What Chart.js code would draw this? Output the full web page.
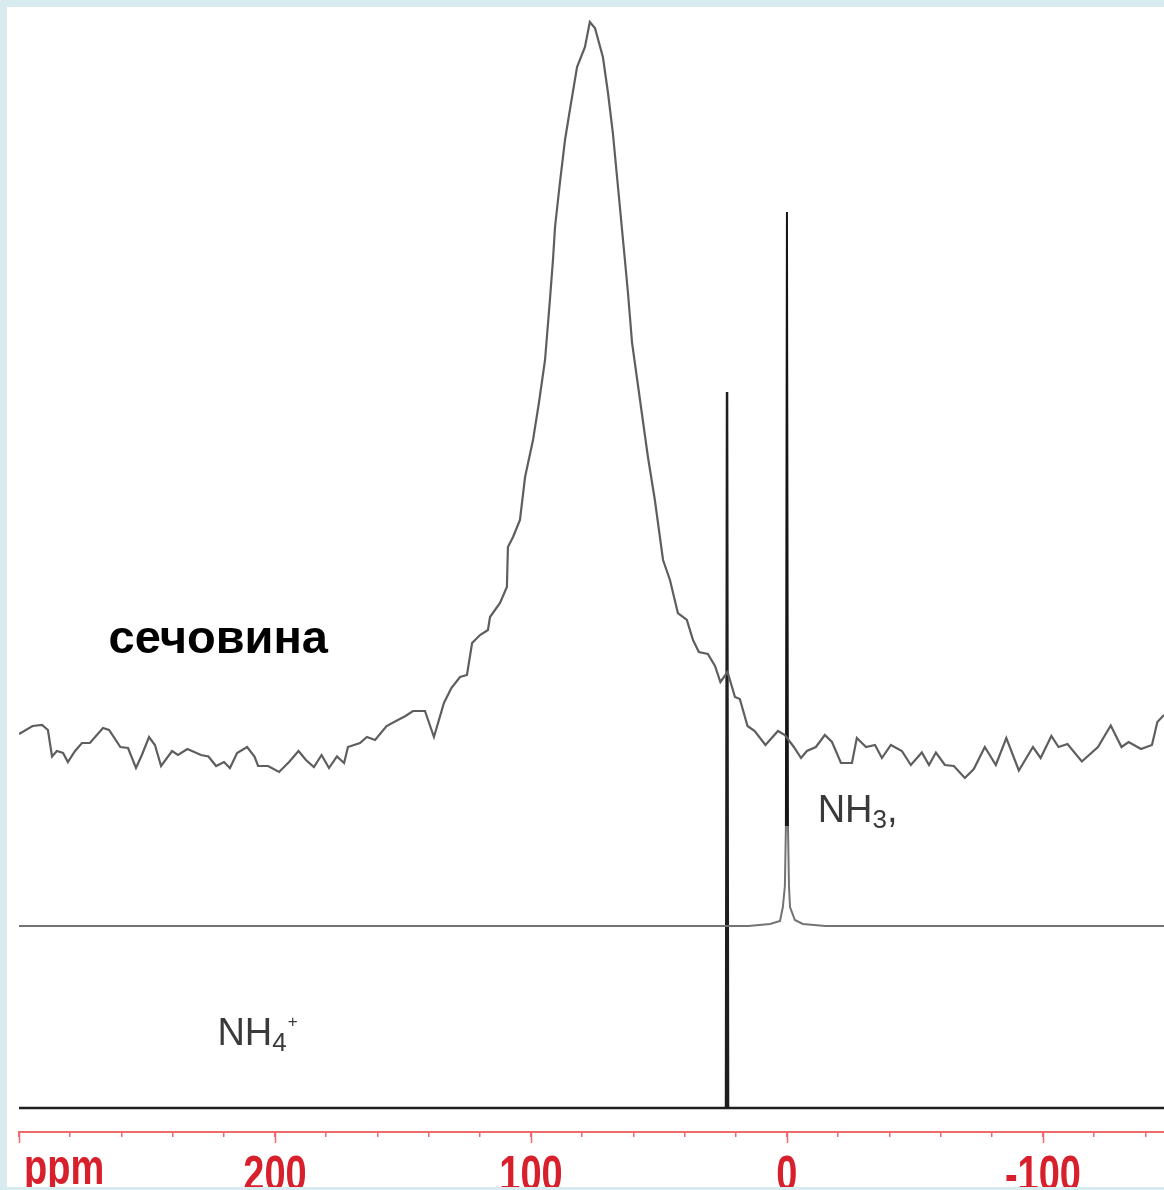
<!DOCTYPE html>
<html><head><meta charset="utf-8">
<script src="https://cdn.jsdelivr.net/npm/chart.js@4.4.1/dist/chart.umd.min.js"></script>
<style>
html,body{margin:0;padding:0;background:#d8ecef;width:1164px;height:1190px;overflow:hidden}
#paper{position:absolute;left:7px;top:7px;width:1157px;height:1180px;background:#fff}
#c{position:absolute;left:0;top:0;z-index:1}
#foot{position:absolute;left:0;top:1187px;width:1164px;height:3px;background:#d8ecef;z-index:2}
</style></head><body>
<div id="paper"></div>
<canvas id="c" width="1164" height="1190"></canvas>
<div id="foot"></div>
<script>
// ---- data (ppm, intensity) ----
const ureaPpm = [300.0,294.7,291.0,288.7,287.1,285.2,282.8,280.9,278.1,275.4,272.3,267.2,264.8,260.4,257.4,254.3,252.0,249.2,246.9,244.5,240.2,237.9,234.2,228.9,226.0,223.0,219.9,217.6,214.8,210.9,208.0,206.6,202.7,198.4,194.5,190.8,187.9,184.8,181.8,178.9,175.8,173.0,171.5,166.8,164.1,160.9,156.4,152.0,149.0,146.1,141.4,137.9,134.0,131.1,127.7,125.0,123.0,119.9,116.8,116.0,112.1,109.4,109.0,107.0,104.3,102.3,99.2,96.9,94.5,92.6,91.4,90.6,88.7,86.7,84.8,82.0,78.9,77.0,75.0,71.9,69.9,68.0,66.0,63.3,62.1,60.5,57.4,54.3,51.6,48.4,45.7,42.6,39.1,36.7,34.4,30.9,28.1,26.0,23.2,20.3,18.4,15.4,12.6,8.4,3.5,0.8,-2.7,-5.5,-7.8,-11.3,-14.8,-17.6,-21.1,-25.4,-27.3,-30.9,-34.4,-37.1,-40.6,-44.9,-48.4,-52.7,-55.5,-58.2,-61.7,-65.2,-69.5,-73.0,-77.3,-81.6,-85.7,-90.6,-96.1,-99.1,-103.3,-106.1,-109.6,-115.2,-121.5,-126.5,-130.7,-133.5,-138.3,-142.6,-144.7,-147.3];
const ureaInt = [18,26,27,22,-4.5,1,-1,-10,1,9,9,24,22,5,4,-16,-3,15,7,-14,1,-3,3,-3,-4.5,-14,-10,-16,-1,5,-4.5,-14,-14,-20,-10,1,-8,-15,-3,-16,-4.5,-11,5,9,15,12,26,32,36,41,41,15,49,64,75,77,109,117,122,135,149,165,205,215,232,275,312,349,392,452,492,525,569,612,642,685,705,730,724,695,659,619,565,492,459,409,352,295,252,192,172,139,132,112,100,98,86,70,80,55,53,26,21,7,21,17,5,-6,1,5,17,10,-11,-11,14,5,7,-6,7,1,-13,-0.5,-13,-0.5,-13,-14,-26,-17,5,-13,14,-18.5,5,-6,16,5,8,-9.5,5,26.5,5,10,3,7,30,37];
const nh3Ppm = [300,15,6.6,2.7,1.6,0.8,0.4,0,-0.4,-0.8,-1.2,-3.1,-6.2,-15,-147.3];
const nh3Int = [0,0,2,5,19,40,100,714,100,40,19,6,2,0,0];
const nh4Ppm = [300,23.8,23.4,23.0,-147.3];
const nh4Int = [0,0,716,0,0];
const seriesNames = ['сечовина','NH3','NH4+'];
const tickValues = [200,100,0,-100];
const tickLabels = ['200','100','0','-100'];
const majorTicks = [300,200,100,0,-100];
const axisUnit = 'ppm';

// ---- layout / style ----
const offsets = [380,206,24];
const traceColors = ['#5e5e5e','#737373','#1e1e1e'];
const spikeColor = '#151515';
const traceWidths = [2.2,2,2.5];
const axisRed = '#ee6b6b';
const labelRed = '#d8202c';
const labelFont = 'bold 50px "Liberation Sans",Arial,sans-serif';
const labelSquash = 0.76;

function pts(xs, ys, off){ return xs.map((x,i)=>({x:x, y:ys[i]+off})); }

function squashed(ctx, text, x, y, align){
  ctx.save();
  ctx.translate(x, y);
  ctx.scale(labelSquash, 1);
  ctx.textAlign = align;
  ctx.fillText(text, 0, 0);
  ctx.restore();
}

const overlay = {
  id:'overlay',
  afterDraw(chart){
    const {ctx, scales:{x,y}} = chart;
    ctx.save();
    ctx.strokeStyle = axisRed; ctx.lineWidth = 1.5;
    majorTicks.forEach(v=>{
      const px = Math.round(x.getPixelForValue(v))+0.5;
      ctx.beginPath(); ctx.moveTo(px, x.top); ctx.lineTo(px, x.top+11); ctx.stroke();
    });
    ctx.fillStyle = labelRed;
    ctx.font = labelFont;
    ctx.textBaseline='alphabetic';
    tickValues.forEach((v,i)=> squashed(ctx, tickLabels[i], x.getPixelForValue(v), x.top+59, 'center'));
    squashed(ctx, axisUnit, x.left+5, x.top+52, 'left');

    // series labels
    ctx.fillStyle = '#000';
    ctx.font = 'bold 47px "Liberation Sans",Arial,sans-serif';
    ctx.textAlign='left';
    ctx.textBaseline='middle';
    ctx.fillText(seriesNames[0], x.getPixelForValue(265), y.getPixelForValue(492));

    ctx.fillStyle = '#3a3a3a';
    ctx.textBaseline='alphabetic';
    let px = x.getPixelForValue(-12), py = y.getPixelForValue(310);
    ctx.font = '38px "Liberation Sans",Arial,sans-serif';
    ctx.fillText('NH', px, py); px += ctx.measureText('NH').width;
    ctx.font = '26px "Liberation Sans",Arial,sans-serif';
    ctx.fillText('3', px, py+6); px += ctx.measureText('3').width;
    ctx.font = '38px "Liberation Sans",Arial,sans-serif';
    ctx.fillText(',', px, py);

    px = x.getPixelForValue(222.5); py = y.getPixelForValue(87);
    ctx.font = '38px "Liberation Sans",Arial,sans-serif';
    ctx.fillText('NH', px, py); px += ctx.measureText('NH').width;
    ctx.font = '26px "Liberation Sans",Arial,sans-serif';
    ctx.fillText('4', px, py+6); px += ctx.measureText('4').width + 1;
    ctx.font = '17px "Liberation Sans",Arial,sans-serif';
    ctx.fillText('+', px, py-18);
    ctx.restore();
  }
};

new Chart(document.getElementById('c'), {
  type:'line',
  data:{
    datasets:[
      {label:seriesNames[0], data:pts(ureaPpm, ureaInt, offsets[0]), borderColor:traceColors[0], borderWidth:traceWidths[0]},
      {label:seriesNames[1], data:pts(nh3Ppm, nh3Int, offsets[1]), borderColor:traceColors[1], borderWidth:traceWidths[1],
        segment:{borderColor:c => (c.p0.parsed.y - offsets[1] >= 100 && c.p1.parsed.y - offsets[1] >= 100) ? spikeColor : traceColors[1]}},
      {label:seriesNames[2], data:pts(nh4Ppm, nh4Int, offsets[2]), borderColor:traceColors[2], borderWidth:traceWidths[2]}
    ]
  },
  options:{
    responsive:false, animation:false, devicePixelRatio:1,
    layout:{padding:{left:19,right:0,top:0,bottom:0}},
    elements:{point:{radius:0}, line:{tension:0, fill:false}},
    plugins:{legend:{display:false}, tooltip:{enabled:false}},
    scales:{
      x:{type:'linear', reverse:true, min:-147.3, max:300,
        afterFit(s){ s.height = 58; },
        border:{display:true, color:axisRed, width:2},
        grid:{drawOnChartArea:false, drawTicks:true, tickLength:5, color:axisRed, lineWidth:1.5},
        ticks:{stepSize:20, autoSkip:false, includeBounds:false, display:false}
      },
      y:{display:false, min:0, max:1132}
    }
  },
  plugins:[overlay]
});
</script>
</body></html>
